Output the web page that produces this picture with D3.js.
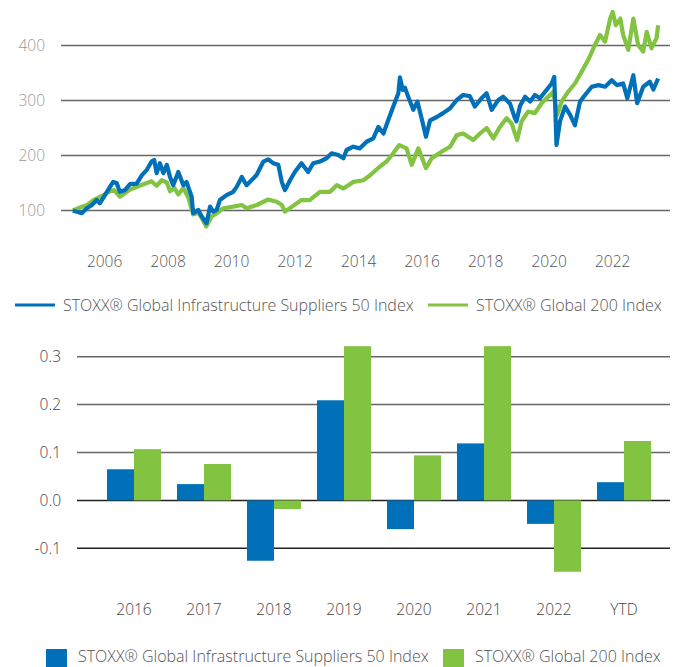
<!DOCTYPE html>
<html><head><meta charset="utf-8">
<script src="https://cdn.jsdelivr.net/npm/d3@7"></script>
<style>
body{margin:0;background:#fff;}
svg{display:block;font-family:"Open Sans",sans-serif;font-weight:300;}
</style></head>
<body><svg id="c" width="678" height="667"></svg>
<script>
// ---------- Line chart data ----------
const seriesNames = ["STOXX® Global Infrastructure Suppliers 50 Index", "STOXX® Global 200 Index"];
const yearTicks = [2006, 2008, 2010, 2012, 2014, 2016, 2018, 2020, 2022];
const lineYTicks = [100, 200, 300, 400];

const infraYears = [2005.0,2005.1,2005.28,2005.44,2005.6,2005.75,2005.85,2006.01,2006.17,2006.27,2006.38,2006.48,2006.64,2006.8,2007.01,2007.17,2007.33,2007.48,2007.56,2007.64,2007.74,2007.85,2007.96,2008.06,2008.16,2008.32,2008.48,2008.58,2008.74,2008.79,2008.95,2009.06,2009.21,2009.32,2009.42,2009.53,2009.63,2009.84,2010.05,2010.16,2010.32,2010.47,2010.68,2010.79,2011.0,2011.15,2011.31,2011.47,2011.58,2011.68,2011.84,2011.99,2012.2,2012.41,2012.57,2012.78,2012.99,2013.15,2013.36,2013.52,2013.62,2013.83,2014.04,2014.25,2014.46,2014.62,2014.78,2014.93,2015.09,2015.25,2015.3,2015.39,2015.46,2015.56,2015.72,2015.85,2015.98,2016.12,2016.25,2016.46,2016.66,2016.88,2017.09,2017.29,2017.5,2017.66,2017.87,2018.03,2018.19,2018.4,2018.55,2018.77,2018.92,2018.97,2019.08,2019.24,2019.4,2019.55,2019.71,2019.87,2020.08,2020.16,2020.23,2020.34,2020.5,2020.66,2020.81,2020.97,2021.13,2021.34,2021.55,2021.76,2021.97,2022.13,2022.33,2022.46,2022.65,2022.77,2022.96,2023.17,2023.28,2023.43];
const infraValues = [100,98,95,104,110,119,113,128,143,152,150,134,137,148,149,164,174,189,192,168,186,168,183,161,146,170,146,152,125,95,101,89,77,107,98,101,119,128,134,143,161,146,158,165,189,193,186,183,152,137,155,170,186,170,186,189,195,204,201,195,210,216,213,225,231,252,240,264,289,313,342,319,323,307,283,298,268,234,264,270,277,286,301,310,308,289,304,313,283,301,307,294,268,262,290,307,298,310,304,316,331,343,219,262,289,274,255,298,310,325,328,325,337,328,331,304,346,295,325,334,320,340];

const globalYears = [2005.0,2005.25,2005.45,2005.65,2005.9,2006.17,2006.3,2006.48,2006.8,2007.1,2007.33,2007.48,2007.64,2007.8,2007.96,2008.06,2008.2,2008.32,2008.48,2008.64,2008.79,2008.95,2009.06,2009.2,2009.37,2009.53,2009.74,2010.05,2010.32,2010.47,2010.79,2011.15,2011.42,2011.58,2011.68,2011.9,2012.2,2012.46,2012.78,2013.1,2013.31,2013.52,2013.83,2014.15,2014.36,2014.67,2014.88,2015.09,2015.28,2015.51,2015.67,2015.88,2016.12,2016.3,2016.61,2016.88,2017.09,2017.29,2017.61,2017.82,2018.03,2018.24,2018.45,2018.66,2018.82,2018.99,2019.13,2019.34,2019.55,2019.76,2019.97,2020.13,2020.25,2020.39,2020.6,2020.81,2021.02,2021.23,2021.44,2021.6,2021.76,2021.92,2022.0,2022.1,2022.24,2022.33,2022.49,2022.65,2022.8,2022.96,2023.07,2023.22,2023.38,2023.43];
const globalValues = [100,106,110,119,126,135,137,125,138,145,150,153,145,155,151,135,141,129,141,123,93,96,86,71,89,95,104,107,110,104,110,120,116,110,98,107,119,119,134,134,146,140,152,155,164,180,189,204,219,213,183,213,177,195,207,216,237,240,228,240,250,231,252,268,258,228,262,280,277,295,307,316,274,298,316,331,352,374,401,419,407,449,461,437,449,419,392,449,401,389,425,395,413,437];

// ---------- Bar chart data ----------
const barCategories = ["2016","2017","2018","2019","2020","2021","2022","YTD"];
const infraReturns = [0.065,0.034,-0.126,0.209,-0.060,0.119,-0.049,0.038];
const globalReturns = [0.107,0.076,-0.018,0.322,0.094,0.322,-0.149,0.124];
const barYTicks = [-0.1, 0.0, 0.1, 0.2, 0.3];

const BLUE = "#0070b8", GREEN = "#82c341";
const svg = d3.select("#c");

// ===== Line chart =====
const x = d3.scaleLinear().domain([2006, 2022]).range([104.6, 612.7]);
const y = d3.scaleLinear().domain([100, 400]).range([210.5, 45.5]);

svg.append("g").selectAll("line").data(lineYTicks).join("line")
  .attr("x1", 61).attr("x2", 670)
  .attr("y1", d => y(d)).attr("y2", d => y(d))
  .attr("stroke", "#666").attr("stroke-width", 1.5);
svg.append("g").selectAll("text").data(lineYTicks).join("text")
  .attr("x", 45).attr("y", d => y(d)).attr("dy", "0.35em")
  .attr("text-anchor", "end").attr("fill", "#9a9a9a").attr("font-size", 15.5)
  .text(d => d);
svg.append("g").selectAll("text").data(yearTicks).join("text")
  .attr("x", d => x(d)).attr("y", 267)
  .attr("text-anchor", "middle").attr("fill", "#555").attr("font-size", 15.5)
  .text(d => d);

const line = d3.line().x(d => x(d[0])).y(d => y(d[1])).curve(d3.curveLinear);
const gData = d3.zip(globalYears, globalValues);
const iData = d3.zip(infraYears, infraValues);
svg.append("path").datum(gData).attr("d", line)
  .attr("fill", "none").attr("stroke", GREEN).attr("stroke-width", 4.2).attr("stroke-linejoin", "round");
svg.append("path").datum(iData).attr("d", line)
  .attr("fill", "none").attr("stroke", BLUE).attr("stroke-width", 4.2).attr("stroke-linejoin", "round");

// line legend
const lg = svg.append("g");
const lItems = [{name: seriesNames[0], c: BLUE, x: 15}, {name: seriesNames[1], c: GREEN, x: 428}];
lItems.forEach(it => {
  lg.append("line").attr("x1", it.x).attr("x2", it.x + 40).attr("y1", 305).attr("y2", 305)
    .attr("stroke", it.c).attr("stroke-width", 3);
  lg.append("text").attr("x", it.x + 48).attr("y", 305).attr("dy", "0.35em")
    .attr("fill", "#555").attr("font-size", 16).text(it.name);
});

// ===== Bar chart =====
const xb = d3.scaleBand().domain(barCategories).range([99, 659]).paddingInner(16/70).paddingOuter(8/70);
const xs = d3.scaleBand().domain([0, 1]).range([0, xb.bandwidth()]);
const yb = d3.scaleLinear().domain([-0.1, 0.3]).range([548.3, 356.7]);

svg.append("g").selectAll("line").data(barYTicks).join("line")
  .attr("x1", 77).attr("x2", 670)
  .attr("y1", d => yb(d)).attr("y2", d => yb(d))
  .attr("stroke", d => d <= 0 ? "#222" : "#666").attr("stroke-width", 1.5);
svg.append("g").selectAll("text").data(barYTicks).join("text")
  .attr("x", 61).attr("y", d => yb(d)).attr("dy", "0.35em")
  .attr("text-anchor", "end").attr("fill", "#444").attr("font-size", 15.5)
  .text(d => d.toFixed(1));

const bars = svg.append("g");
[infraReturns, globalReturns].forEach((vals, si) => {
  bars.selectAll(null).data(vals).join("rect")
    .attr("x", (d, i) => xb(barCategories[i]) + xs(si))
    .attr("width", xs.bandwidth())
    .attr("y", d => yb(Math.max(0, d)))
    .attr("height", d => Math.abs(yb(d) - yb(0)))
    .attr("fill", si === 0 ? BLUE : GREEN);
});
svg.append("g").selectAll("text").data(barCategories).join("text")
  .attr("x", d => xb(d) + xb.bandwidth() / 2).attr("y", 615)
  .attr("text-anchor", "middle").attr("fill", "#444").attr("font-size", 15.5)
  .text(d => d);

// bar legend
const bl = svg.append("g");
const bItems = [{name: seriesNames[0], c: BLUE, x: 46}, {name: seriesNames[1], c: GREEN, x: 443}];
bItems.forEach(it => {
  bl.append("rect").attr("x", it.x).attr("y", 649).attr("width", 21).attr("height", 18).attr("fill", it.c);
  bl.append("text").attr("x", it.x + 32).attr("y", 662)
    .attr("fill", "#555").attr("font-size", 16).text(it.name);
});
</script>
</body></html>
